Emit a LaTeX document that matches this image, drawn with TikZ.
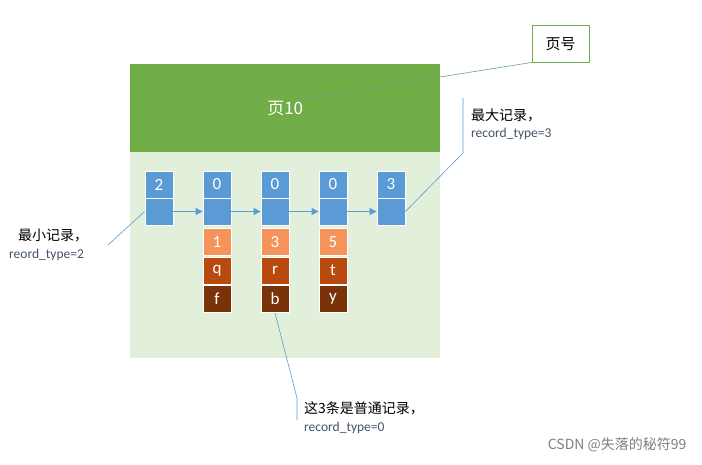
\documentclass[tikz,border=0pt]{standalone}
\usepackage{fontspec}
\setmainfont{Carlito}
\newfontfamily\cjk{Noto Sans CJK SC}
\usetikzlibrary{arrows.meta}
\definecolor{hdr}{HTML}{70AD47}
\definecolor{bodyg}{HTML}{E2EFDA}
\definecolor{rec}{HTML}{5B9BD5}
\definecolor{c1}{HTML}{F4945B}
\definecolor{c2}{HTML}{B84A0E}
\definecolor{c3}{HTML}{7A3208}
\definecolor{lbl}{HTML}{44546A}
\begin{document}
\begin{tikzpicture}[x=1pt,y=-1pt,
  cell/.style={draw=white,line width=0.8pt,minimum width=28pt,minimum height=27pt,inner sep=0pt,text=white,font=\fontsize{17}{20}\selectfont},
  callout/.style={draw=rec,line width=0.6pt},
  lab/.style={font=\cjk\fontsize{14}{16}\selectfont,text=black,inner sep=1pt},
  lab2/.style={font=\fontsize{13.5}{16}\selectfont,text=lbl,inner sep=1pt}]
\useasboundingbox (0,0) rectangle (702,464);
\fill[white] (0,0) rectangle (702,464);
\node[fill=bodyg,minimum width=310pt,minimum height=206pt,inner sep=0pt,anchor=north west] (body) at (130,152) {};
\node[fill=hdr,minimum width=310pt,minimum height=88pt,inner sep=0pt,anchor=north west,text=white,font=\cjk\fontsize{17}{20}\selectfont] (hdr) at (130,64) {页10};
\node[draw=hdr,fill=white,minimum width=57pt,minimum height=37pt,anchor=north west,font=\cjk\fontsize{15}{18}\selectfont] (pn) at (532,25) {页号};
\coordinate (hp) at (295,100);
\draw[callout,draw=hdr!60!rec] (hp) -- (pn.south west);
% records
\foreach \i/\x/\v in {a/159/2,b/217/0,c/275/0,d/333/0,e/391/3}{
  \node[cell,fill=rec] (t\i) at (\x,184.5) {\v};
  \node[cell,fill=rec] (u\i) at (\x,211.5) {};
}
\foreach \i/\x/\p/\q/\r in {b/217/1/q/f,c/275/3/r/b,d/333/5/t/y}{
  \node[cell,fill=c1] (p\i) at (\x,242) {\p};
  \node[cell,fill=c2] (q\i) at (\x,270.5) {\q};
  \node[cell,fill=c3] (r\i) at (\x,299) {\r};
}
\foreach \a/\b in {a/b,b/c,c/d,d/e}
  \draw[rec,line width=1pt,-{Triangle[length=7pt,width=7pt]}] (u\a) -- (u\b);
% callouts
\node[lab,anchor=west] (l1) at (17,235) {最小记录，};
\node[lab2,anchor=west] (l1b) at (8,255) {reord\_type=2};
\coordinate (l1c) at (108,245);
\draw[callout] (l1c) -- (ua.west);
\node[lab,anchor=west] (l2) at (470,115) {最大记录，};
\node[lab2,anchor=west] (l2b) at (470,134) {record\_type=3};
\coordinate (b2t) at (463,98); \coordinate (b2b) at (463,153);
\draw[callout] (b2t) -- (b2b) -- (ue.east);
\node[lab,anchor=west] (l3) at (303,408) {这3条是普通记录，};
\node[lab2,anchor=west] (l3b) at (303,428) {record\_type=0};
\coordinate (b3t) at (297,398); \coordinate (b3b) at (297,420);
\draw[callout] (b3b) -- (b3t) -- (rc.south);
\node[font=\cjk\fontsize{14}{16}\selectfont,text=gray,anchor=east] (wm) at (690,445) {CSDN @失落的秘符99};
\end{tikzpicture}
\end{document}
